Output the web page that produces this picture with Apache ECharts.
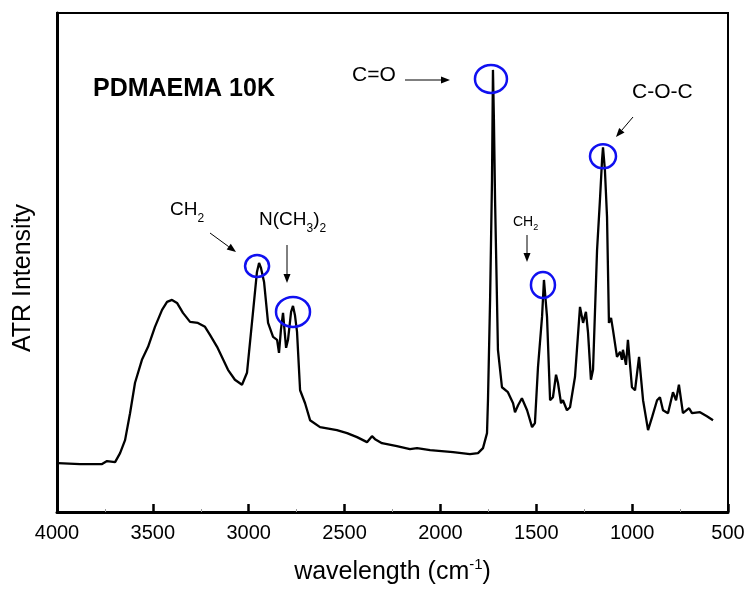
<!DOCTYPE html>
<html>
<head>
<meta charset="utf-8">
<script src="https://cdn.jsdelivr.net/npm/echarts@6/dist/echarts.min.js"></script>
<style>
html, body { margin: 0; padding: 0; background: #fff; }
#chart { width: 745px; height: 589px; }
</style>
</head>
<body>
<div id="chart"></div>
<script>
// spectrum: wavenumber (cm-1) and ATR intensity (a.u., 0-100)
var wavenumber = [
  3995, 3880, 3765, 3739, 3697, 3671, 3645, 3619, 3593, 3557,
  3525, 3489, 3452, 3426, 3400, 3374, 3343, 3306, 3265, 3228,
  3202, 3165, 3108, 3072, 3035, 3009, 2978, 2957, 2946, 2936,
  2920, 2899, 2873, 2852, 2842, 2832, 2821, 2811, 2805, 2795,
  2779, 2769, 2759, 2748, 2732, 2706, 2680, 2628, 2540, 2487,
  2435, 2383, 2357, 2341, 2305, 2227, 2159, 2122, 2054, 1934,
  1846, 1804, 1778, 1757, 1752, 1741, 1731, 1726, 1721, 1715,
  1710, 1700, 1679, 1648, 1621, 1611, 1595, 1575, 1548, 1522,
  1507, 1491, 1470, 1460, 1444, 1428, 1413, 1397, 1387, 1371,
  1361, 1340, 1324, 1298, 1288, 1272, 1256, 1241, 1230, 1215,
  1204, 1183, 1168, 1157, 1152, 1142, 1131, 1121, 1110, 1100,
  1079, 1063, 1053, 1048, 1032, 1022, 1001, 985, 964, 943,
  917, 896, 870, 855, 839, 813, 787, 771, 756, 735,
  703, 688, 646, 610, 578
];
var intensity = [
  9.8, 9.6, 9.6, 10.2, 10.0, 11.8, 14.4, 19.8, 25.9, 30.5,
  33.1, 37.1, 40.5, 42.1, 42.5, 41.9, 39.9, 38.1, 37.9, 37.1,
  35.5, 33.1, 28.5, 26.5, 25.5, 27.9, 39.9, 48.1, 49.9, 48.9,
  46.1, 37.9, 35.1, 34.5, 31.9, 36.5, 39.9, 35.5, 32.9, 34.5,
  40.1, 41.3, 39.5, 36.1, 24.4, 21.8, 18.4, 17.0, 16.4, 15.8,
  15.0, 14.0, 15.2, 14.6, 13.8, 13.2, 12.6, 12.8, 12.4, 12.0,
  11.6, 11.8, 12.8, 15.8, 22.4, 42.5, 66.5, 88.6, 78.6, 62.5,
  52.5, 32.5, 25.0, 24.0, 21.8, 20.0, 21.4, 22.8, 20.4, 17.0,
  17.8, 29.1, 39.1, 46.5, 39.1, 22.4, 23.0, 27.5, 25.9, 21.8,
  22.4, 20.4, 21.0, 27.1, 32.5, 41.1, 37.9, 40.1, 35.9, 26.5,
  28.5, 52.5, 62.5, 70.5, 73.1, 68.5, 59.1, 37.9, 38.9, 36.5,
  31.1, 32.1, 30.5, 32.5, 29.5, 34.5, 25.0, 24.4, 31.1, 22.4,
  16.4, 19.0, 22.4, 23.0, 20.4, 19.8, 24.0, 22.4, 25.5, 19.8,
  20.8, 19.8, 20.0, 19.2, 18.4
];
// marked peaks: [wavenumber, intensity]
var peakCO = [1726, 88.6];
var peakCH2a = [2946, 49.9];
var peakNMe2 = [2769, 41.3];
var peakCH2b = [1460, 46.5];
var peakCOC = [1152, 73.1];

var xMin = 500, xMax = 4000, xStep = 500;

var FONT = '"Liberation Sans", Arial, sans-serif';
var chart = echarts.init(document.getElementById('chart'));

chart.setOption({
  animation: false,
  grid: {
    left: 57, right: 17, top: 13, bottom: 77,
    show: true, borderColor: '#000', borderWidth: 2,
    outerBoundsMode: 'none'
  },
  xAxis: {
    type: 'value', inverse: true,
    min: xMin, max: xMax, interval: xStep,
    axisLine: { show: true, onZero: false, lineStyle: { color: '#000', width: 3 } },
    // negative length: ticks point up into the plot
    axisTick: { show: true, inside: false, length: -8, lineStyle: { color: '#000', width: 2.5 } },
    minorTick: { show: true, splitNumber: 2, length: -3, lineStyle: { color: '#999', width: 1 } },
    axisLabel: {
      margin: 11, fontSize: 20, color: '#000', fontFamily: FONT,
      formatter: function (v) { return String(v); }
    },
    splitLine: { show: false },
    name: 'wavelength (cm{sup|-1})',
    nameLocation: 'middle', nameGap: 45,
    nameTextStyle: {
      fontSize: 25, color: '#000', fontFamily: FONT,
      rich: { sup: { fontSize: 15, color: '#000', fontFamily: FONT, padding: [0, 0, 16, 0] } }
    }
  },
  yAxis: {
    type: 'value', min: 0, max: 100,
    axisLine: { show: true, lineStyle: { color: '#000', width: 3 } },
    axisTick: { show: false },
    axisLabel: { show: false },
    splitLine: { show: false }
  },
  series: [{
    type: 'line',
    data: wavenumber.map(function (w, i) { return [w, intensity[i]]; }),
    symbol: 'none',
    lineStyle: { color: '#000', width: 2.3 }
  }]
});

function px(p) { return chart.convertToPixel({ gridIndex: 0 }, p); }

function ring(p, dx, dy, rx, ry) {
  var c = px(p);
  return {
    type: 'ellipse',
    shape: { cx: c[0] + dx, cy: c[1] + dy, rx: rx, ry: ry },
    style: { fill: null, stroke: '#1010f0', lineWidth: 2.5 },
    z: 100
  };
}

function arrow(x1, y1, x2, y2) {
  var a = Math.atan2(y2 - y1, x2 - x1), L = 9, W = 3.5;
  var bx = x2 - L * Math.cos(a), by = y2 - L * Math.sin(a);
  var s = Math.sin(a), c = Math.cos(a);
  return [
    { type: 'line', shape: { x1: x1, y1: y1, x2: bx, y2: by }, style: { stroke: '#000', lineWidth: 1 }, z: 100 },
    { type: 'polygon', shape: { points: [[x2, y2], [bx + W * s, by - W * c], [bx - W * s, by + W * c]] },
      style: { fill: '#000' }, z: 100 }
  ];
}

function label(text, x, y, size, bold, subSize, subShift) {
  var rich = {};
  if (subSize) {
    rich.sub = { fontSize: subSize, fontFamily: FONT, fill: '#000', padding: [subShift, 0, 0, 0] };
  }
  return {
    type: 'text', x: x, y: y, z: 100,
    style: {
      text: text, fill: '#000', fontSize: size, fontFamily: FONT,
      fontWeight: bold ? 'bold' : 'normal',
      verticalAlign: 'middle', align: 'left', rich: rich
    }
  };
}

var g = [];
// y axis title, rotated
g.push({
  type: 'text', x: 23, y: 278, rotation: Math.PI / 2, z: 100,
  style: { text: 'ATR Intensity', fill: '#000', fontSize: 25, fontFamily: FONT, align: 'center', verticalAlign: 'middle' }
});
g.push(label('PDMAEMA 10K', 93, 89, 25, true));
g.push(label('C=O', 352, 75, 21));
g = g.concat(arrow(405, 80, 450, 80));
g.push(label('CH{sub|2}', 170, 210, 19, false, 12, 18));
g = g.concat(arrow(210, 233, 236, 252));
g.push(label('N(CH{sub|3}){sub|2}', 259, 220, 19, false, 12, 18));
g = g.concat(arrow(287, 245, 287, 283));
g.push(label('CH{sub|2}', 513, 222, 14, false, 9, 12));
g = g.concat(arrow(527, 235, 527, 262));
g.push(label('C-O-C', 632, 92, 21));
g = g.concat(arrow(633, 117, 616, 137));
g.push(ring(peakCO, -2, 9, 16, 14));
g.push(ring(peakCH2a, -2, 3, 12, 11));
g.push(ring(peakNMe2, 0, 6, 17, 15));
g.push(ring(peakCH2b, -1, 5, 12, 13));
g.push(ring(peakCOC, 0, 9, 13, 12));

chart.setOption({ graphic: g });
</script>
</body>
</html>
